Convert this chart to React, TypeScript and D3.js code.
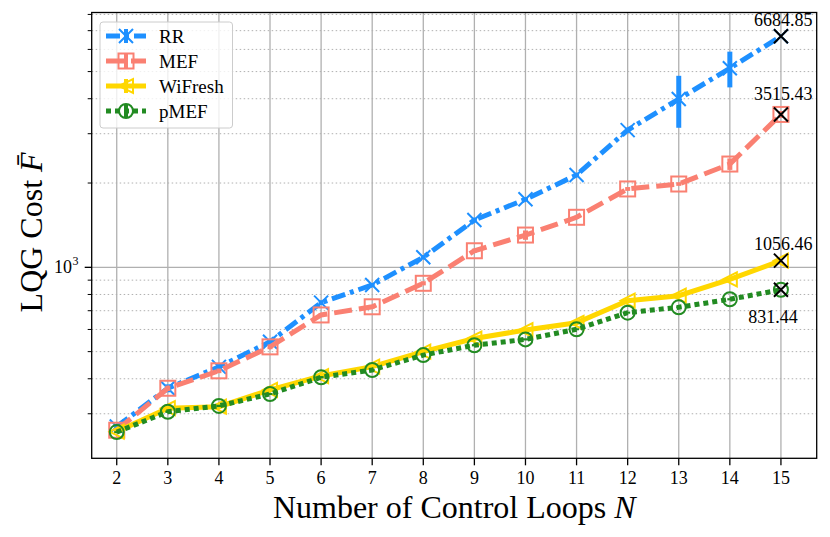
import * as d3 from 'd3'

// number of control loops
const loops = [2, 3, 4, 5, 6, 7, 8, 9, 10, 11, 12, 13, 14, 15]

// mean LQG cost per scheme
const rrCost = [270, 370, 441, 542, 748, 865, 1086, 1475, 1750, 2137, 3090, 3990, 5141, 6684.85]
const mefCost = [262, 370, 427, 520, 676, 723, 877, 1146, 1304, 1509, 1905, 1984, 2338, 3515.43]
const wifreshCost = [259, 314, 318, 365, 409, 442, 500, 557, 597, 634, 760, 792, 906, 1056.46]
const pmefCost = [258, 305, 320, 353, 405, 430, 486, 527, 553, 601, 689, 720, 769, 831.44]

// half-width of the error bars
const rrErr = [6, 12, 10, 12, 15, 15, 20, 30, 30, 40, 60, 840, 750, 0]
const mefErr = [5, 8, 8, 10, 10, 10, 15, 20, 50, 20, 30, 30, 110, 100]
const wifreshErr = [3, 4, 4, 4, 5, 5, 5, 6, 6, 6, 8, 8, 10, 0]
const pmefErr = [2, 3, 3, 3, 4, 4, 4, 5, 5, 5, 6, 6, 7, 0]

const minorTicks = [300, 400, 500, 600, 700, 800, 900, 2000, 3000, 4000, 5000, 6000, 7000, 8000]

type Marker = 'x' | 'square' | 'tri' | 'circle'

interface Series {
  name: string
  values: number[]
  err: number[]
  color: string
  dash: string
  marker: Marker
}

const series: Series[] = [
  { name: 'RR', values: rrCost, err: rrErr, color: '#1E90FF', dash: '14,5,4,5', marker: 'x' },
  { name: 'MEF', values: mefCost, err: mefErr, color: '#FA8072', dash: '18,7', marker: 'square' },
  { name: 'WiFresh', values: wifreshCost, err: wifreshErr, color: '#FFD700', dash: '', marker: 'tri' },
  { name: 'pMEF', values: pmefCost, err: pmefErr, color: '#228B22', dash: '5,4', marker: 'circle' },
]

const W = 830
const H = 537
const left = 91.7
const right = 816.7
const top = 12.5
const bottom = 458.3
const font = '"Liberation Serif", "DejaVu Serif", serif'

function MarkerShape({ type, x, y, color }: { type: Marker; x: number; y: number; color: string }) {
  const s = 7
  if (type === 'x')
    return (
      <path d={`M${x - s},${y - s}L${x + s},${y + s}M${x - s},${y + s}L${x + s},${y - s}`} stroke={color} strokeWidth={2} />
    )
  if (type === 'square')
    return <rect x={x - 7.5} y={y - 7.5} width={15} height={15} fill="none" stroke={color} strokeWidth={2} />
  if (type === 'tri')
    return (
      <path d={`M${x - s},${y}L${x + s},${y - s}L${x + s},${y + s}Z`} fill="none" stroke={color} strokeWidth={2} />
    )
  return <circle cx={x} cy={y} r={7} fill="none" stroke={color} strokeWidth={2} />
}

export default function App() {
  const x = d3.scaleLinear().domain([1.51, 15.7]).range([left, right])
  const y = d3.scaleLog().domain([208, 8128]).range([bottom, top])

  const line = d3
    .line<number>()
    .x((_, i) => x(loops[i]))
    .y(d => y(d))

  const last = loops.length - 1
  const notes = [
    { v: rrCost[last], dx: 2.4, dy: -10 },
    { v: mefCost[last], dx: 2.4, dy: -14 },
    { v: wifreshCost[last], dx: 2.4, dy: -11 },
    { v: pmefCost[last], dx: -8, dy: 33 },
  ]

  return (
    <svg width={W} height={H} style={{ position: 'absolute', left: 0, top: 0, background: '#fff' }} fontFamily={font}>
      <rect width={W} height={H} fill="#fff" />

      {/* grid */}
      {minorTicks.map(t => (
        <line key={'m' + t} x1={left} x2={right} y1={y(t)} y2={y(t)} stroke="#b0b0b0" strokeWidth={1} strokeDasharray="1.5,2.5" />
      ))}
      <line x1={left} x2={right} y1={y(1000)} y2={y(1000)} stroke="#b0b0b0" strokeWidth={1.3} />
      {loops.map(n => (
        <line key={'g' + n} x1={x(n)} x2={x(n)} y1={top} y2={bottom} stroke="#b0b0b0" strokeWidth={1.3} />
      ))}

      {/* series */}
      {series.map(s => (
        <g key={s.name}>
          {s.values.map((v, i) =>
            s.err[i] > 0 ? (
              <line key={i} x1={x(loops[i])} x2={x(loops[i])} y1={y(v - s.err[i])} y2={y(v + s.err[i])} stroke={s.color} strokeWidth={5} />
            ) : null
          )}
          <path d={line(s.values) ?? ''} fill="none" stroke={s.color} strokeWidth={5} strokeDasharray={s.dash || undefined} />
          {s.values.map((v, i) => (
            <MarkerShape key={'k' + i} type={s.marker} x={x(loops[i])} y={y(v)} color={s.color} />
          ))}
        </g>
      ))}

      {/* end-point annotations */}
      {notes.map((nt, i) => (
        <g key={'n' + i}>
          <MarkerShape type="x" x={x(loops[last])} y={y(nt.v)} color="#000" />
          <text x={x(loops[last]) + nt.dx} y={y(nt.v) + nt.dy} fontSize={18} textAnchor="middle">
            {nt.v.toFixed(2)}
          </text>
        </g>
      ))}

      {/* frame */}
      <rect x={left} y={top} width={right - left} height={bottom - top} fill="none" stroke="#000" strokeWidth={1.3} />

      {/* x axis */}
      {loops.map(n => (
        <g key={'t' + n}>
          <line x1={x(n)} x2={x(n)} y1={bottom} y2={bottom + 7} stroke="#000" strokeWidth={1.3} />
          <text x={x(n)} y={484} fontSize={18} textAnchor="middle">
            {n}
          </text>
        </g>
      ))}
      <text x={(left + right) / 2} y={518} fontSize={32} textAnchor="middle">
        Number of Control Loops <tspan fontStyle="italic">N</tspan>
      </text>

      {/* y axis */}
      <line x1={left - 7} x2={left} y1={y(1000)} y2={y(1000)} stroke="#000" strokeWidth={1.3} />
      {minorTicks.map(t => (
        <line key={'mt' + t} x1={left - 4} x2={left} y1={y(t)} y2={y(t)} stroke="#000" strokeWidth={1} />
      ))}
      <text x={72} y={y(1000) + 6} fontSize={18} textAnchor="end">
        10
      </text>
      <text x={72.5} y={y(1000) - 2} fontSize={12}>
        3
      </text>
      <text transform={`translate(42,${(top + bottom) / 2 - 3}) rotate(-90)`} fontSize={32} textAnchor="middle">
        LQG Cost <tspan fontStyle="italic">F̄</tspan>
      </text>

      {/* legend */}
      <rect x={100} y={22} width={132.5} height={106} rx={3} fill="#fff" fillOpacity={0.8} stroke="#cccccc" strokeWidth={1} />
      {series.map((s, i) => {
        const ly = 36 + i * 25
        return (
          <g key={'l' + s.name}>
            <line x1={106} x2={146} y1={ly} y2={ly} stroke={s.color} strokeWidth={5} strokeDasharray={s.dash || undefined} />
            <line x1={126} x2={126} y1={ly - 7} y2={ly + 7} stroke={s.color} strokeWidth={4} />
            <MarkerShape type={s.marker} x={126} y={ly} color={s.color} />
            <text x={159} y={ly + 6.5} fontSize={19}>
              {s.name}
            </text>
          </g>
        )
      })}
    </svg>
  )
}
